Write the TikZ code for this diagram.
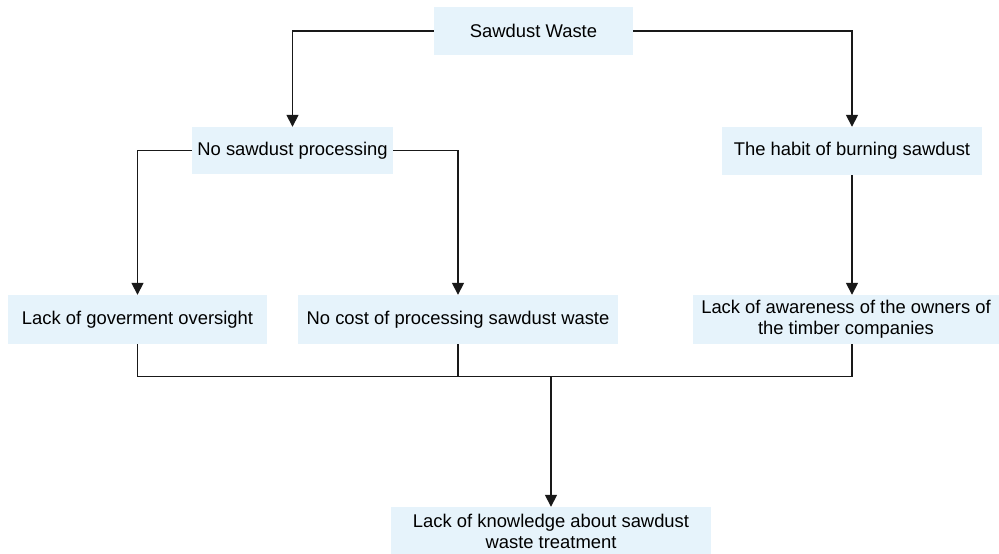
\documentclass[tikz,border=0pt]{standalone}
\usepackage{fontspec}
\setmainfont{Liberation Sans}
\usetikzlibrary{arrows.meta}
\definecolor{boxfill}{RGB}{230,243,251}
\definecolor{linecol}{RGB}{25,25,25}
\tikzset{
  box/.style={rectangle, fill=boxfill, draw=none, inner sep=0pt, align=center,
    font=\fontsize{18.4}{21}\selectfont, text=black},
  conn/.style={draw=linecol, line width=1.6pt},
  arr/.style={conn, -{Triangle[length=12pt, width=12pt]}},
}
\begin{document}
\begin{tikzpicture}[x=1pt, y=-1pt]
\useasboundingbox (0,0) rectangle (999,554);
\node[box, minimum width=199pt, minimum height=48pt] (sw) at (533.5,31) {Sawdust Waste};
\node[box, minimum width=201pt, minimum height=47pt] (nsp) at (292.5,150.5) {No sawdust processing};
\node[box, minimum width=260pt, minimum height=48pt] (hab) at (852,151) {The habit of burning sawdust};
\node[box, minimum width=259pt, minimum height=49pt] (gov) at (137.5,319.5) {Lack of goverment oversight};
\node[box, minimum width=320pt, minimum height=49pt] (cost) at (458,319.5) {No cost of processing sawdust waste};
\node[box, minimum width=306pt, minimum height=49pt] (aw) at (846,319.5) {Lack of awareness of the owners of\\the timber companies};
\node[box, minimum width=320pt, minimum height=48pt] (kn) at (551,531) {Lack of knowledge about sawdust\\waste treatment};
\coordinate (j) at (551,376.5);
\draw[arr] (sw.west) -| (nsp.north);
\draw[arr] (sw.east) -| (hab.north);
\draw[arr] (nsp.west) -| (gov.north);
\draw[arr] (nsp.east) -| (cost.north);
\draw[arr] (hab.south) -- (hab.south |- aw.north);
\draw[conn] (gov.south) |- (j) -| (hab.south |- aw.south);
\draw[conn] (cost.south) -- (cost.south |- j);
\draw[arr] (j) -- (kn.north);
\end{tikzpicture}
\end{document}
